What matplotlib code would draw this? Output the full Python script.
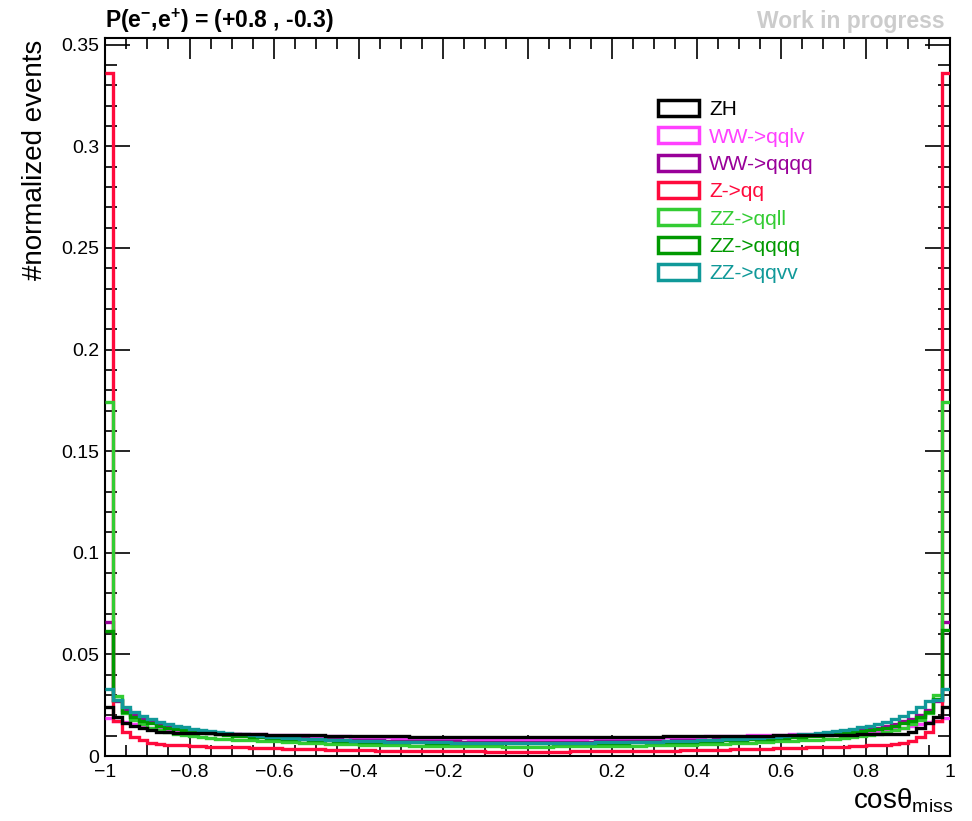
import numpy as np
import matplotlib
matplotlib.use("Agg")
import matplotlib.pyplot as plt
from matplotlib.ticker import MultipleLocator, FuncFormatter
from matplotlib.patches import Patch

plt.rcParams['font.family'] = ['Liberation Sans', 'DejaVu Sans']
plt.rcParams['mathtext.fontset'] = 'custom'
plt.rcParams['mathtext.rm'] = 'Liberation Sans'
plt.rcParams['mathtext.it'] = 'Liberation Sans:italic'
plt.rcParams['mathtext.bf'] = 'Liberation Sans:bold'
plt.rcParams['mathtext.default'] = 'regular'

# ---------------- data (normalized events, units of 1e-3) ----------------
bin_edges = np.linspace(-1.0, 1.0, 101)

labels = ["ZH", "WW->qqlv", "WW->qqqq", "Z->qq", "ZZ->qqll", "ZZ->qqqq", "ZZ->qqvv"]
colors = ["#000000", "#ff40ff", "#990099", "#ff0a3c", "#33cc33", "#009900", "#109999"]

zh_left = [24.0, 19.0, 16.4, 14.7, 13.6, 12.6, 12.0, 11.7, 11.5, 11.4,
           11.3, 11.2, 11.1, 11.0, 10.9, 10.8, 10.8, 10.7, 10.6, 10.5,
           10.4, 10.4, 10.3, 10.2, 10.2, 10.1, 10.0, 10.0, 9.9, 9.8,
           9.8, 9.7, 9.7, 9.6, 9.6, 9.6, 9.5, 9.5, 9.5, 9.5,
           9.4, 9.4, 9.4, 9.4, 9.3, 9.3, 9.3, 9.3, 9.3, 9.3]
zh_right = [9.3, 9.3, 9.3, 9.3, 9.3, 9.3, 9.3, 9.4, 9.4, 9.4,
            9.4, 9.4, 9.5, 9.5, 9.5, 9.5, 9.6, 9.6, 9.6, 9.7,
            9.7, 9.7, 9.8, 9.8, 9.9, 9.9, 10.0, 10.0, 10.0, 10.1,
            10.1, 10.2, 10.2, 10.3, 10.3, 10.4, 10.4, 10.5, 10.5, 10.6,
            10.7, 10.8, 10.8, 10.9, 11.0, 11.9, 13.6, 16.0, 19.0, 24.0]

wwqqlv_left = [18.7, 17.3, 16.5, 15.5, 14.6, 13.8, 13.2, 12.8, 12.4, 12.1,
               11.8, 11.6, 11.4, 11.2, 11.0, 10.9, 10.8, 10.7, 10.6, 10.5,
               10.4, 10.3, 10.2, 10.1, 10.0, 9.9, 9.8, 9.7, 9.6, 9.5,
               9.4, 9.3, 9.3, 9.2, 9.1, 9.0, 9.0, 8.9, 8.9, 8.8,
               8.8, 8.7, 8.7, 8.6, 8.6, 8.5, 8.5, 8.5, 8.5, 8.5]
wwqqlv_right = [8.5, 8.5, 8.5, 8.5, 8.5, 8.6, 8.6, 8.7, 8.7, 8.8,
                8.8, 8.9, 8.9, 9.0, 9.0, 9.1, 9.2, 9.3, 9.3, 9.4,
                9.5, 9.6, 9.7, 9.8, 9.9, 10.0, 10.1, 10.2, 10.3, 10.4,
                10.5, 10.6, 10.7, 10.8, 10.9, 11.0, 11.2, 11.4, 11.6, 11.8,
                12.1, 12.4, 12.8, 13.2, 13.8, 14.6, 15.5, 16.5, 17.0, 18.7]

wwqqqq_left = [65.7, 27.0, 22.6, 20.0, 18.3, 17.0, 15.8, 14.8, 13.9, 13.2,
               12.6, 12.1, 11.7, 11.3, 11.0, 10.7, 10.4, 10.1, 9.8, 9.5,
               9.3, 9.1, 8.9, 8.7, 8.6, 8.5, 8.3, 8.2, 8.1, 8.0,
               7.9, 7.8, 7.7, 7.6, 7.5, 7.5, 7.4, 7.4, 7.3, 7.3,
               7.2, 7.2, 7.1, 7.1, 7.1, 7.0, 7.0, 7.0, 7.0, 7.0]
wwqqqq_right = [7.0, 7.0, 7.0, 7.0, 7.0, 7.1, 7.1, 7.1, 7.2, 7.2,
                7.3, 7.3, 7.4, 7.4, 7.5, 7.5, 7.6, 7.7, 7.8, 7.9,
                8.0, 8.1, 8.2, 8.3, 8.5, 8.6, 8.7, 8.9, 9.1, 9.3,
                9.5, 9.8, 10.1, 10.4, 10.7, 11.0, 11.3, 11.7, 12.1, 12.6,
                13.2, 13.9, 14.8, 15.8, 17.0, 18.3, 20.0, 22.6, 27.0, 65.7]

zqq_left = [336.0, 17.0, 12.0, 9.5, 7.8, 6.5, 5.8, 5.6, 5.4, 5.2,
            5.0, 4.8, 4.6, 4.5, 4.4, 4.3, 4.2, 4.0, 3.9, 3.8,
            3.7, 3.6, 3.5, 3.4, 3.3, 3.2, 3.1, 3.0, 3.0, 2.9,
            2.8, 2.8, 2.7, 2.7, 2.6, 2.6, 2.5, 2.5, 2.5, 2.4,
            2.4, 2.4, 2.3, 2.3, 2.3, 2.2, 2.2, 2.2, 2.2, 2.2]
zqq_right = [2.2, 2.2, 2.2, 2.2, 2.2, 2.3, 2.3, 2.3, 2.4, 2.4,
             2.4, 2.5, 2.5, 2.5, 2.6, 2.6, 2.7, 2.7, 2.8, 2.8,
             2.9, 3.0, 3.0, 3.1, 3.2, 3.3, 3.4, 3.5, 3.6, 3.7,
             3.8, 3.9, 4.0, 4.2, 4.3, 4.4, 4.5, 4.6, 4.8, 5.0,
             5.2, 5.4, 5.6, 5.8, 6.3, 7.5, 9.5, 11.9, 17.3, 336.0]

zzqqll_left = [174.0, 29.5, 21.0, 17.5, 15.5, 14.0, 13.0, 12.0, 11.0, 10.2,
               9.7, 9.3, 8.9, 8.6, 8.3, 8.1, 7.9, 7.7, 7.5, 7.4,
               7.2, 7.0, 6.8, 6.6, 6.4, 6.3, 6.1, 6.0, 5.8, 5.7,
               5.6, 5.5, 5.4, 5.3, 5.3, 5.2, 5.1, 5.1, 5.0, 5.0,
               4.9, 4.9, 4.8, 4.8, 4.7, 4.7, 4.7, 4.6, 4.6, 4.6]
zzqqll_right = [4.6, 4.6, 4.6, 4.7, 4.7, 4.7, 4.8, 4.8, 4.9, 4.9,
                5.0, 5.0, 5.1, 5.1, 5.2, 5.3, 5.3, 5.4, 5.5, 5.6,
                5.7, 5.8, 6.0, 6.1, 6.3, 6.4, 6.6, 6.8, 7.0, 7.2,
                7.4, 7.5, 7.7, 7.9, 8.1, 8.3, 8.6, 8.9, 9.3, 9.7,
                10.2, 11.0, 12.0, 13.0, 14.0, 15.5, 17.5, 21.0, 30.0, 174.0]

zzqqqq_left = [61.4, 27.5, 21.5, 19.0, 17.3, 16.0, 14.8, 14.0, 13.4, 12.8,
               12.2, 11.7, 11.2, 10.8, 10.4, 10.0, 9.7, 9.4, 9.2, 9.0,
               8.8, 8.6, 8.4, 8.2, 8.0, 7.8, 7.7, 7.5, 7.4, 7.2,
               7.1, 7.0, 6.9, 6.9, 6.8, 6.8, 6.7, 6.7, 6.6, 6.6,
               6.5, 6.5, 6.5, 6.4, 6.4, 6.4, 6.3, 6.3, 6.3, 6.3]
zzqqqq_right = [6.3, 6.3, 6.3, 6.3, 6.4, 6.4, 6.4, 6.5, 6.5, 6.5,
                6.6, 6.6, 6.7, 6.7, 6.8, 6.8, 6.9, 6.9, 7.0, 7.1,
                7.2, 7.4, 7.5, 7.7, 7.8, 8.0, 8.2, 8.4, 8.6, 8.8,
                9.0, 9.2, 9.4, 9.7, 10.0, 10.4, 10.8, 11.2, 11.7, 12.2,
                12.8, 13.4, 14.0, 14.8, 16.0, 17.3, 19.0, 21.6, 28.0, 61.9]

zzqqvv_left = [33.0, 27.5, 24.2, 21.8, 19.6, 18.0, 16.5, 15.5, 14.8, 14.2,
               13.5, 12.9, 12.4, 11.9, 11.5, 11.0, 10.6, 10.2, 9.8, 9.5,
               9.2, 9.0, 8.8, 8.6, 8.4, 8.2, 8.0, 7.8, 7.7, 7.5,
               7.4, 7.3, 7.2, 7.1, 7.0, 6.9, 6.9, 6.8, 6.8, 6.7,
               6.7, 6.6, 6.6, 6.6, 6.5, 6.5, 6.5, 6.5, 6.5, 6.5]
zzqqvv_right = [6.5, 6.5, 6.5, 6.5, 6.5, 6.6, 6.6, 6.6, 6.7, 6.7,
                6.8, 6.8, 6.9, 6.9, 7.0, 7.1, 7.2, 7.3, 7.4, 7.5,
                7.7, 7.8, 8.0, 8.2, 8.4, 8.6, 8.8, 9.0, 9.2, 9.5,
                9.8, 10.2, 10.6, 11.0, 11.5, 11.9, 12.4, 12.9, 13.5, 14.2,
                14.8, 15.5, 16.5, 18.0, 19.6, 21.8, 24.2, 27.0, 27.5, 33.0]

series = [zh_left + zh_right,
          wwqqlv_left + wwqqlv_right,
          wwqqqq_left + wwqqqq_right,
          zqq_left + zqq_right,
          zzqqll_left + zzqqll_right,
          zzqqqq_left + zzqqqq_right,
          zzqqvv_left + zzqqvv_right]
for s in series:
    assert len(s) == 100, len(s)

# ---------------- figure ----------------
W, H = 972, 821
fig = plt.figure(figsize=(W / 100, H / 100), dpi=100)
ax = fig.add_axes([105 / W, 1 - 756 / H, (950 - 105) / W, (756 - 38) / H])

draw_order = [1, 2, 3, 4, 5, 6, 0]
for i in draw_order:
    ax.stairs(np.array(series[i]) * 1e-3, bin_edges, color=colors[i], lw=2.4,
              baseline=None, zorder=3 + draw_order.index(i))

ax.set_xlim(-1, 1)
ax.set_ylim(0, 0.3533)

ax.xaxis.set_major_locator(MultipleLocator(0.2))
ax.xaxis.set_minor_locator(MultipleLocator(0.05))
ax.yaxis.set_major_locator(MultipleLocator(0.05))
ax.yaxis.set_minor_locator(MultipleLocator(0.01))

def xfmt(v, pos):
    s = "%g" % round(v, 2)
    if s == "-0":
        s = "0"
    return s.replace("-", "\u2212")

def yfmt(v, pos):
    s = "%g" % round(v, 3)
    return s

ax.xaxis.set_major_formatter(FuncFormatter(xfmt))
ax.yaxis.set_major_formatter(FuncFormatter(yfmt))

ax.tick_params(axis='both', which='both', direction='in', top=True, right=True,
               width=1.2, labelsize=14)
ax.tick_params(axis='x', which='major', length=15, pad=6)
ax.tick_params(axis='x', which='minor', length=8)
ax.tick_params(axis='y', which='major', length=18, pad=4)
ax.tick_params(axis='y', which='minor', length=8.5)
for sp in ax.spines.values():
    sp.set_linewidth(1.5)

# legend
handles = [Patch(facecolor='none', edgecolor=c, lw=2.5) for c in colors]
leg = fig.legend(handles, labels, loc='upper left',
                 bbox_to_anchor=(658 / W, 1 - 100 / H), frameon=False,
                 fontsize=15, handlelength=1.95, handleheight=0.8,
                 handletextpad=0.5, labelspacing=0.39, borderpad=0,
                 borderaxespad=0, labelcolor=colors)

# texts
fig.text(105 / W, 1 - 28 / H, r"P(e$^{-}$,e$^{+}$) = (+0.8 , -0.3)",
         fontsize=16.5, fontweight='bold', ha='left', va='baseline')
fig.text(945 / W, 1 - 28 / H, "Work in progress", fontsize=16.5,
         fontweight='bold', color='#cccccc', ha='right', va='baseline')
fig.text(35 / W, 1 - 40 / H, "#normalized events", rotation=90,
         fontsize=20, ha='center', va='top')
fig.text(953 / W, 1 - 808 / H, r"cos$\theta_{\rm miss}$", fontsize=20,
         ha='right', va='baseline')

fig.savefig("out.png", dpi=100)
